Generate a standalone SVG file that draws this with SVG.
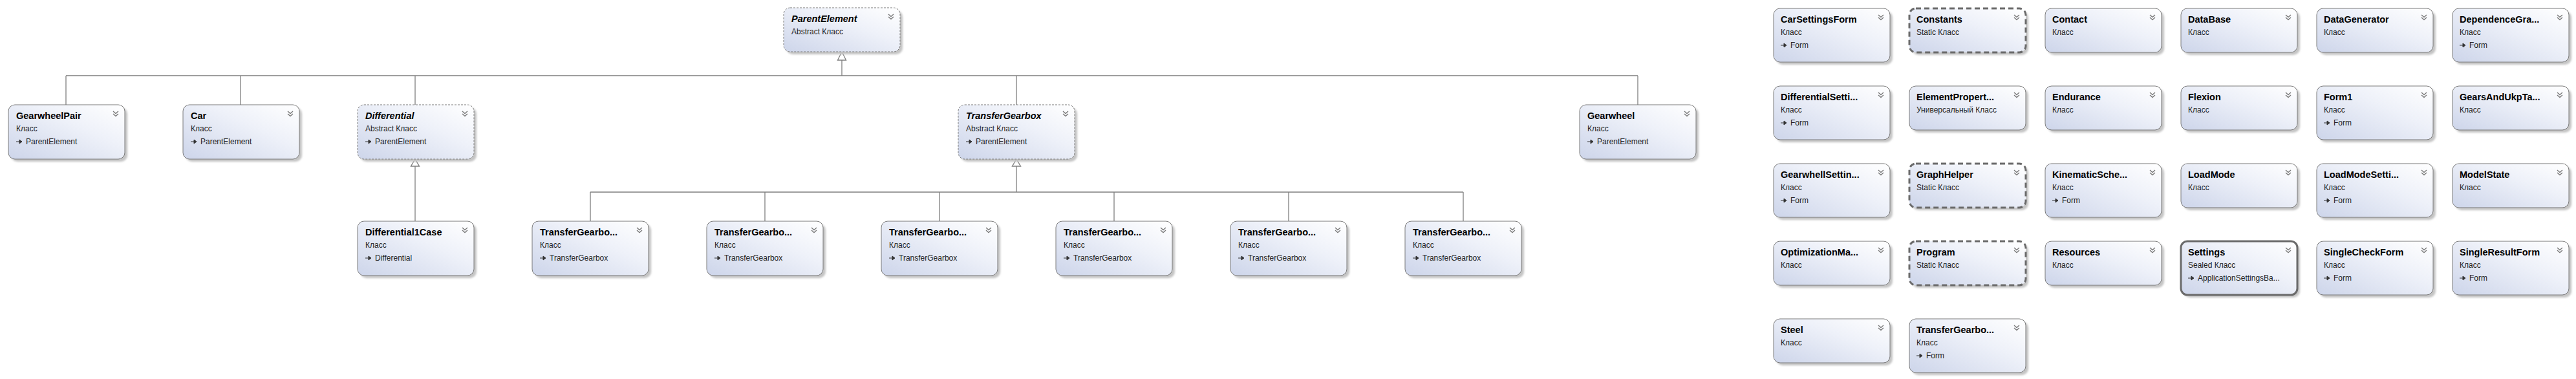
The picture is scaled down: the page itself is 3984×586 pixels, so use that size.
<svg xmlns="http://www.w3.org/2000/svg" xmlns:xlink="http://www.w3.org/1999/xlink" width="3984" height="586" viewBox="0 0 3984 586">
<style>
.box{fill:url(#grad);stroke:#7a7a7a;stroke-width:1}
.abs{stroke-dasharray:3 2}
.stat{stroke:#6a6a6a;stroke-width:3;stroke-dasharray:8 5}
.seal{stroke:#6a6a6a;stroke-width:3}
.sh{fill:#c4c4c4;filter:url(#blur)}
.t{font-family:"Liberation Sans",Arial,sans-serif;font-weight:bold;font-size:14.5px;fill:#000}
.ti{font-style:italic}
.s{font-family:"Liberation Sans",Arial,sans-serif;font-size:12px;fill:#222}
.c{fill:none;stroke:#7f7f7f;stroke-width:1.3}
.tri{fill:#fff;stroke:#7f7f7f;stroke-width:1.3}
</style>
<defs>
<linearGradient id="grad" x1="0" y1="1" x2="1" y2="0">
<stop offset="0" stop-color="#cdd5ea"/>
<stop offset="0.6" stop-color="#eef1f9"/>
<stop offset="1" stop-color="#ffffff"/>
</linearGradient>
<filter id="blur" x="-10%" y="-10%" width="120%" height="130%"><feGaussianBlur stdDeviation="1.5"/></filter>
<path id="chev" d="M0 0 L4 3.5 L8 0 M0 4 L4 7.5 L8 4" fill="none" stroke="#7a7a7a" stroke-width="1.4"/>
<path id="inh" d="M0 0 H5 M5 -3 V3 L9 0 Z" fill="#333" stroke="#333" stroke-width="1"/>
</defs>
<rect width="3984" height="586" fill="#fff"/>

<g id="connectors">
<path class="c" d="M1302 93 V117 M102 117 H2533 M102 117 V162 M372 117 V162 M642 117 V162 M1572 117 V162 M2533 117 V162"/>
<polygon class="tri" points="1302,80 1295.5,93 1308.5,93"/>
<path class="c" d="M642 257 V342"/>
<polygon class="tri" points="642,246 635.5,257 648.5,257"/>
<path class="c" d="M1572 257 V297 M913 297 H2263 M913 297 V342 M1183 297 V342 M1453 297 V342 M1723 297 V342 M1993 297 V342 M2263 297 V342"/>
<polygon class="tri" points="1572,246 1565.5,257 1578.5,257"/>
</g>

<g id="n-ParentElement"><rect class="sh" x="1216" y="16" width="180" height="68" rx="10"/><rect class="box abs" x="1212" y="12" width="180" height="68" rx="10"/><text class="t ti" x="1224" y="34">ParentElement</text><text class="s" x="1224" y="53">Abstract Класс</text><use href="#chev" x="1374" y="22"/></g>

<g id="n-GearwheelPair"><rect class="sh" x="17" y="166" width="180" height="84" rx="10"/><rect class="box" x="13" y="162" width="180" height="84" rx="10"/><text class="t" x="25" y="184">GearwheelPair</text><text class="s" x="25" y="203">Класс</text><use href="#inh" x="25" y="219"/><text class="s" x="40" y="223">ParentElement</text><use href="#chev" x="175" y="172"/></g>

<g id="n-Car"><rect class="sh" x="287" y="166" width="180" height="84" rx="10"/><rect class="box" x="283" y="162" width="180" height="84" rx="10"/><text class="t" x="295" y="184">Car</text><text class="s" x="295" y="203">Класс</text><use href="#inh" x="295" y="219"/><text class="s" x="310" y="223">ParentElement</text><use href="#chev" x="445" y="172"/></g>

<g id="n-Differential"><rect class="sh" x="557" y="166" width="180" height="84" rx="10"/><rect class="box abs" x="553" y="162" width="180" height="84" rx="10"/><text class="t ti" x="565" y="184">Differential</text><text class="s" x="565" y="203">Abstract Класс</text><use href="#inh" x="565" y="219"/><text class="s" x="580" y="223">ParentElement</text><use href="#chev" x="715" y="172"/></g>

<g id="n-TransferGearbox"><rect class="sh" x="1486" y="166" width="180" height="84" rx="10"/><rect class="box abs" x="1482" y="162" width="180" height="84" rx="10"/><text class="t ti" x="1494" y="184">TransferGearbox</text><text class="s" x="1494" y="203">Abstract Класс</text><use href="#inh" x="1494" y="219"/><text class="s" x="1509" y="223">ParentElement</text><use href="#chev" x="1644" y="172"/></g>

<g id="n-Gearwheel"><rect class="sh" x="2447" y="166" width="180" height="84" rx="10"/><rect class="box" x="2443" y="162" width="180" height="84" rx="10"/><text class="t" x="2455" y="184">Gearwheel</text><text class="s" x="2455" y="203">Класс</text><use href="#inh" x="2455" y="219"/><text class="s" x="2470" y="223">ParentElement</text><use href="#chev" x="2605" y="172"/></g>

<g id="n-Differential1Case"><rect class="sh" x="557" y="346" width="180" height="84" rx="10"/><rect class="box" x="553" y="342" width="180" height="84" rx="10"/><text class="t" x="565" y="364">Differential1Case</text><text class="s" x="565" y="383">Класс</text><use href="#inh" x="565" y="399"/><text class="s" x="580" y="403">Differential</text><use href="#chev" x="715" y="352"/></g>

<g id="n-TG1"><rect class="sh" x="827" y="346" width="180" height="84" rx="10"/><rect class="box" x="823" y="342" width="180" height="84" rx="10"/><text class="t" x="835" y="364">TransferGearbo...</text><text class="s" x="835" y="383">Класс</text><use href="#inh" x="835" y="399"/><text class="s" x="850" y="403">TransferGearbox</text><use href="#chev" x="985" y="352"/></g>
<g id="n-TG2"><rect class="sh" x="1097" y="346" width="180" height="84" rx="10"/><rect class="box" x="1093" y="342" width="180" height="84" rx="10"/><text class="t" x="1105" y="364">TransferGearbo...</text><text class="s" x="1105" y="383">Класс</text><use href="#inh" x="1105" y="399"/><text class="s" x="1120" y="403">TransferGearbox</text><use href="#chev" x="1255" y="352"/></g>
<g id="n-TG3"><rect class="sh" x="1367" y="346" width="180" height="84" rx="10"/><rect class="box" x="1363" y="342" width="180" height="84" rx="10"/><text class="t" x="1375" y="364">TransferGearbo...</text><text class="s" x="1375" y="383">Класс</text><use href="#inh" x="1375" y="399"/><text class="s" x="1390" y="403">TransferGearbox</text><use href="#chev" x="1525" y="352"/></g>
<g id="n-TG4"><rect class="sh" x="1637" y="346" width="180" height="84" rx="10"/><rect class="box" x="1633" y="342" width="180" height="84" rx="10"/><text class="t" x="1645" y="364">TransferGearbo...</text><text class="s" x="1645" y="383">Класс</text><use href="#inh" x="1645" y="399"/><text class="s" x="1660" y="403">TransferGearbox</text><use href="#chev" x="1795" y="352"/></g>
<g id="n-TG5"><rect class="sh" x="1907" y="346" width="180" height="84" rx="10"/><rect class="box" x="1903" y="342" width="180" height="84" rx="10"/><text class="t" x="1915" y="364">TransferGearbo...</text><text class="s" x="1915" y="383">Класс</text><use href="#inh" x="1915" y="399"/><text class="s" x="1930" y="403">TransferGearbox</text><use href="#chev" x="2065" y="352"/></g>
<g id="n-TG6"><rect class="sh" x="2177" y="346" width="180" height="84" rx="10"/><rect class="box" x="2173" y="342" width="180" height="84" rx="10"/><text class="t" x="2185" y="364">TransferGearbo...</text><text class="s" x="2185" y="383">Класс</text><use href="#inh" x="2185" y="399"/><text class="s" x="2200" y="403">TransferGearbox</text><use href="#chev" x="2335" y="352"/></g>

<!-- grid row 1 (y=13) -->
<g id="n-CarSettingsForm"><rect class="sh" x="2747" y="17" width="180" height="83" rx="10"/><rect class="box" x="2743" y="13" width="180" height="83" rx="10"/><text class="t" x="2754" y="35">CarSettingsForm</text><text class="s" x="2754" y="54">Класс</text><use href="#inh" x="2754" y="70"/><text class="s" x="2769" y="74">Form</text><use href="#chev" x="2905" y="23"/></g>
<g id="n-Constants"><rect class="sh" x="2957" y="17" width="180" height="68" rx="10"/><rect class="box stat" x="2953" y="13" width="180" height="68" rx="10"/><text class="t" x="2964" y="35">Constants</text><text class="s" x="2964" y="54">Static Класс</text><use href="#chev" x="3115" y="23"/></g>
<g id="n-Contact"><rect class="sh" x="3167" y="17" width="180" height="68" rx="10"/><rect class="box" x="3163" y="13" width="180" height="68" rx="10"/><text class="t" x="3174" y="35">Contact</text><text class="s" x="3174" y="54">Класс</text><use href="#chev" x="3325" y="23"/></g>
<g id="n-DataBase"><rect class="sh" x="3377" y="17" width="180" height="68" rx="10"/><rect class="box" x="3373" y="13" width="180" height="68" rx="10"/><text class="t" x="3384" y="35">DataBase</text><text class="s" x="3384" y="54">Класс</text><use href="#chev" x="3535" y="23"/></g>
<g id="n-DataGenerator"><rect class="sh" x="3587" y="17" width="180" height="68" rx="10"/><rect class="box" x="3583" y="13" width="180" height="68" rx="10"/><text class="t" x="3594" y="35">DataGenerator</text><text class="s" x="3594" y="54">Класс</text><use href="#chev" x="3745" y="23"/></g>
<g id="n-DependenceGra"><rect class="sh" x="3797" y="17" width="180" height="83" rx="10"/><rect class="box" x="3793" y="13" width="180" height="83" rx="10"/><text class="t" x="3804" y="35">DependenceGra...</text><text class="s" x="3804" y="54">Класс</text><use href="#inh" x="3804" y="70"/><text class="s" x="3819" y="74">Form</text><use href="#chev" x="3955" y="23"/></g>

<!-- grid row 2 (y=133) -->
<g id="n-DifferentialSetti"><rect class="sh" x="2747" y="137" width="180" height="83" rx="10"/><rect class="box" x="2743" y="133" width="180" height="83" rx="10"/><text class="t" x="2754" y="155">DifferentialSetti...</text><text class="s" x="2754" y="174">Класс</text><use href="#inh" x="2754" y="190"/><text class="s" x="2769" y="194">Form</text><use href="#chev" x="2905" y="143"/></g>
<g id="n-ElementPropert"><rect class="sh" x="2957" y="137" width="180" height="68" rx="10"/><rect class="box" x="2953" y="133" width="180" height="68" rx="10"/><text class="t" x="2964" y="155">ElementPropert...</text><text class="s" x="2964" y="174">Универсальный Класс</text><use href="#chev" x="3115" y="143"/></g>
<g id="n-Endurance"><rect class="sh" x="3167" y="137" width="180" height="68" rx="10"/><rect class="box" x="3163" y="133" width="180" height="68" rx="10"/><text class="t" x="3174" y="155">Endurance</text><text class="s" x="3174" y="174">Класс</text><use href="#chev" x="3325" y="143"/></g>
<g id="n-Flexion"><rect class="sh" x="3377" y="137" width="180" height="68" rx="10"/><rect class="box" x="3373" y="133" width="180" height="68" rx="10"/><text class="t" x="3384" y="155">Flexion</text><text class="s" x="3384" y="174">Класс</text><use href="#chev" x="3535" y="143"/></g>
<g id="n-Form1"><rect class="sh" x="3587" y="137" width="180" height="83" rx="10"/><rect class="box" x="3583" y="133" width="180" height="83" rx="10"/><text class="t" x="3594" y="155">Form1</text><text class="s" x="3594" y="174">Класс</text><use href="#inh" x="3594" y="190"/><text class="s" x="3609" y="194">Form</text><use href="#chev" x="3745" y="143"/></g>
<g id="n-GearsAndUkpTa"><rect class="sh" x="3797" y="137" width="180" height="68" rx="10"/><rect class="box" x="3793" y="133" width="180" height="68" rx="10"/><text class="t" x="3804" y="155">GearsAndUkpTa...</text><text class="s" x="3804" y="174">Класс</text><use href="#chev" x="3955" y="143"/></g>

<!-- grid row 3 (y=253) -->
<g id="n-GearwhellSettin"><rect class="sh" x="2747" y="257" width="180" height="83" rx="10"/><rect class="box" x="2743" y="253" width="180" height="83" rx="10"/><text class="t" x="2754" y="275">GearwhellSettin...</text><text class="s" x="2754" y="294">Класс</text><use href="#inh" x="2754" y="310"/><text class="s" x="2769" y="314">Form</text><use href="#chev" x="2905" y="263"/></g>
<g id="n-GraphHelper"><rect class="sh" x="2957" y="257" width="180" height="68" rx="10"/><rect class="box stat" x="2953" y="253" width="180" height="68" rx="10"/><text class="t" x="2964" y="275">GraphHelper</text><text class="s" x="2964" y="294">Static Класс</text><use href="#chev" x="3115" y="263"/></g>
<g id="n-KinematicSche"><rect class="sh" x="3167" y="257" width="180" height="83" rx="10"/><rect class="box" x="3163" y="253" width="180" height="83" rx="10"/><text class="t" x="3174" y="275">KinematicSche...</text><text class="s" x="3174" y="294">Класс</text><use href="#inh" x="3174" y="310"/><text class="s" x="3189" y="314">Form</text><use href="#chev" x="3325" y="263"/></g>
<g id="n-LoadMode"><rect class="sh" x="3377" y="257" width="180" height="68" rx="10"/><rect class="box" x="3373" y="253" width="180" height="68" rx="10"/><text class="t" x="3384" y="275">LoadMode</text><text class="s" x="3384" y="294">Класс</text><use href="#chev" x="3535" y="263"/></g>
<g id="n-LoadModeSetti"><rect class="sh" x="3587" y="257" width="180" height="83" rx="10"/><rect class="box" x="3583" y="253" width="180" height="83" rx="10"/><text class="t" x="3594" y="275">LoadModeSetti...</text><text class="s" x="3594" y="294">Класс</text><use href="#inh" x="3594" y="310"/><text class="s" x="3609" y="314">Form</text><use href="#chev" x="3745" y="263"/></g>
<g id="n-ModelState"><rect class="sh" x="3797" y="257" width="180" height="68" rx="10"/><rect class="box" x="3793" y="253" width="180" height="68" rx="10"/><text class="t" x="3804" y="275">ModelState</text><text class="s" x="3804" y="294">Класс</text><use href="#chev" x="3955" y="263"/></g>

<!-- grid row 4 (y=373) -->
<g id="n-OptimizationMa"><rect class="sh" x="2747" y="377" width="180" height="68" rx="10"/><rect class="box" x="2743" y="373" width="180" height="68" rx="10"/><text class="t" x="2754" y="395">OptimizationMa...</text><text class="s" x="2754" y="414">Класс</text><use href="#chev" x="2905" y="383"/></g>
<g id="n-Program"><rect class="sh" x="2957" y="377" width="180" height="68" rx="10"/><rect class="box stat" x="2953" y="373" width="180" height="68" rx="10"/><text class="t" x="2964" y="395">Program</text><text class="s" x="2964" y="414">Static Класс</text><use href="#chev" x="3115" y="383"/></g>
<g id="n-Resources"><rect class="sh" x="3167" y="377" width="180" height="68" rx="10"/><rect class="box" x="3163" y="373" width="180" height="68" rx="10"/><text class="t" x="3174" y="395">Resources</text><text class="s" x="3174" y="414">Класс</text><use href="#chev" x="3325" y="383"/></g>
<g id="n-Settings"><rect class="sh" x="3377" y="377" width="180" height="83" rx="10"/><rect class="box seal" x="3373" y="373" width="180" height="83" rx="10"/><text class="t" x="3384" y="395">Settings</text><text class="s" x="3384" y="414">Sealed Класс</text><use href="#inh" x="3384" y="430"/><text class="s" x="3399" y="434">ApplicationSettingsBa...</text><use href="#chev" x="3535" y="383"/></g>
<g id="n-SingleCheckForm"><rect class="sh" x="3587" y="377" width="180" height="83" rx="10"/><rect class="box" x="3583" y="373" width="180" height="83" rx="10"/><text class="t" x="3594" y="395">SingleCheckForm</text><text class="s" x="3594" y="414">Класс</text><use href="#inh" x="3594" y="430"/><text class="s" x="3609" y="434">Form</text><use href="#chev" x="3745" y="383"/></g>
<g id="n-SingleResultForm"><rect class="sh" x="3797" y="377" width="180" height="83" rx="10"/><rect class="box" x="3793" y="373" width="180" height="83" rx="10"/><text class="t" x="3804" y="395">SingleResultForm</text><text class="s" x="3804" y="414">Класс</text><use href="#inh" x="3804" y="430"/><text class="s" x="3819" y="434">Form</text><use href="#chev" x="3955" y="383"/></g>

<!-- grid row 5 (y=493) -->
<g id="n-Steel"><rect class="sh" x="2747" y="497" width="180" height="68" rx="10"/><rect class="box" x="2743" y="493" width="180" height="68" rx="10"/><text class="t" x="2754" y="515">Steel</text><text class="s" x="2754" y="534">Класс</text><use href="#chev" x="2905" y="503"/></g>
<g id="n-TransferGearbo-Form"><rect class="sh" x="2957" y="497" width="180" height="83" rx="10"/><rect class="box" x="2953" y="493" width="180" height="83" rx="10"/><text class="t" x="2964" y="515">TransferGearbo...</text><text class="s" x="2964" y="534">Класс</text><use href="#inh" x="2964" y="550"/><text class="s" x="2979" y="554">Form</text><use href="#chev" x="3115" y="503"/></g>
</svg>
